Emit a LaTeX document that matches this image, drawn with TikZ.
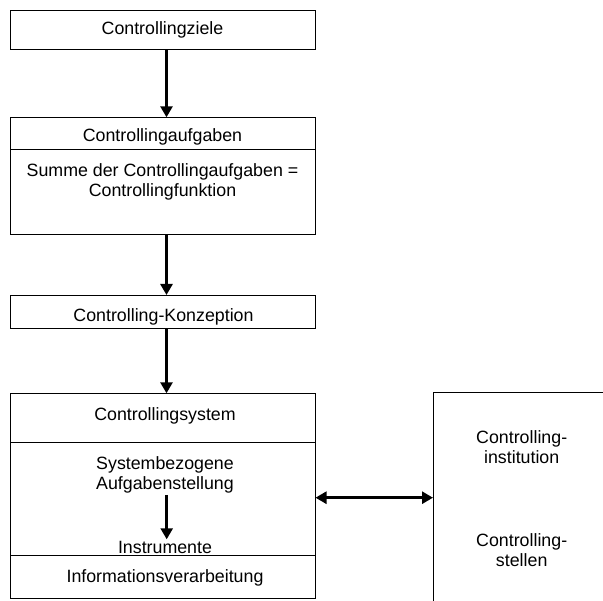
\documentclass[tikz,border=0pt]{standalone}
\usepackage{fontspec}
\setmainfont{Liberation Sans}
\usetikzlibrary{arrows.meta}
\begin{document}
\begin{tikzpicture}[x=1pt,y=-1pt,
  every node/.style={font=\fontsize{17.8}{20}\selectfont, align=center},
  box/.style={draw, line width=1pt, minimum width=305pt, inner sep=0pt, anchor=north},
  txt/.style={inner sep=0pt},
  arr/.style={line width=2.6pt, -{Triangle[length=11pt,width=12pt]}},
  darr/.style={line width=2.6pt, {Triangle[length=11pt,width=12pt]}-{Triangle[length=11pt,width=12pt]}}]
\useasboundingbox (0,0) rectangle (603,601);
% boxes
\node[box, minimum height=39pt] (ziele) at (162.5,10) {};
\node[txt] at (ziele.center) {Controllingziele};

\node[box, minimum height=31.7pt] (aufgT) at (162.5,117.3) {};
\node[txt] at (162.5,136.7) {Controllingaufgaben};
\node[box, minimum height=85.3pt] (aufgB) at (162.5,149) {};
\node[txt] at (162.5,181.7) {Summe der Controllingaufgaben =\\Controllingfunktion};

\node[box, minimum height=33.3pt] (konz) at (162.5,295) {};
\node[txt] at (163.5,317) {Controlling-Konzeption};

\node[box, minimum height=49pt] (sysT) at (162.5,393.3) {};
\node[txt] at (165,415.7) {Controllingsystem};
\node[box, minimum height=112.7pt] (sysB) at (162.5,442.3) {};
\node[box, minimum height=42.7pt] (info) at (162.5,555) {};
\node[txt] at (165,577.7) {Informationsverarbeitung};

\node[txt] (sba) at (165,475.3) {Systembezogene\\Aufgabenstellung};
\node[txt] (instr) at (165,547.7) {Instrumente};

% right box (cut off)
\coordinate (rtop) at (603,392.3);
\coordinate (rcorner) at (433,392.3);
\coordinate (rbot) at (433,601);
\draw[line width=1pt] (rtop) -- (rcorner) -- (rbot);
\node[txt] (inst) at (521.7,446.7) {Controlling-\\institution};
\node[txt] (stell) at (521.7,550) {Controlling-\\stellen};
\coordinate (rin) at (433,497.7);

% connectors
\draw[arr] ([xshift=4pt]ziele.south) -- ([xshift=4pt]aufgT.north);
\draw[arr] ([xshift=4pt]aufgB.south) -- ([xshift=4pt]konz.north);
\draw[arr] ([xshift=4pt]konz.south) -- ([xshift=4pt]sysT.north);
\draw[arr] ([xshift=1.7pt,yshift=-1pt]sba.south) -- ([xshift=1.7pt,yshift=2pt]instr.north);
\draw[darr] (sysB.east |- rin) -- (rin);
\end{tikzpicture}
\end{document}
